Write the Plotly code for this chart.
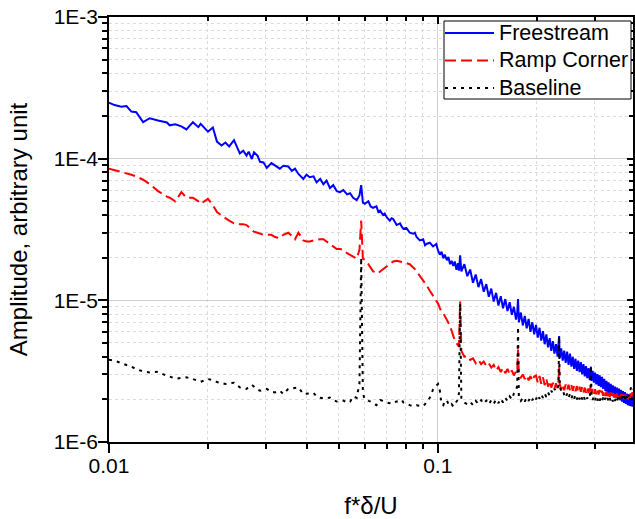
import plotly.graph_objects as go

# ---------------- data ----------------
freq = [
    0.0100, 0.0104, 0.0109, 0.0113, 0.0117, 0.0121, 0.0127, 0.0133, 0.0141, 0.0150,
    0.0153, 0.0159, 0.0166, 0.0172, 0.0180, 0.0187, 0.0190, 0.0200, 0.0207, 0.0213,
    0.0220, 0.0226, 0.0232, 0.0240, 0.0250, 0.0256, 0.0262, 0.0266, 0.0272, 0.0276,
    0.0283, 0.0288, 0.0295, 0.0302, 0.0312, 0.0320, 0.0331, 0.0339, 0.0351, 0.0360,
    0.0368, 0.0377, 0.0390, 0.0399, 0.0408, 0.0419, 0.0428, 0.0439, 0.0449, 0.0459,
    0.0470, 0.0481, 0.0493, 0.0504, 0.0516, 0.0530, 0.0541, 0.0553, 0.0567, 0.0578,
    0.0585, 0.0592, 0.0600, 0.0615, 0.0625, 0.0636, 0.0651, 0.0660, 0.0668, 0.0682,
    0.0690, 0.0700, 0.0715, 0.0724, 0.0732, 0.0750, 0.0768, 0.0778, 0.0786, 0.0803,
    0.0822, 0.0842, 0.0852, 0.0862, 0.0882, 0.0903, 0.0915, 0.0924, 0.0946, 0.0968,
    0.0990, 0.1002, 0.1015, 0.1027, 0.1040, 0.1050, 0.1066, 0.1078, 0.1090, 0.1102,
    0.1115, 0.1127, 0.1140, 0.1152, 0.1160, 0.1170, 0.1180, 0.1205, 0.1230, 0.1255,
    0.1280, 0.1305, 0.1330, 0.1355, 0.1380, 0.1405, 0.1430, 0.1455, 0.1480, 0.1505,
    0.1530, 0.1555, 0.1580, 0.1605, 0.1630, 0.1655, 0.1680, 0.1705, 0.1730, 0.1745,
    0.1755, 0.1765, 0.1790, 0.1815, 0.1840, 0.1865, 0.1890, 0.1915, 0.1940, 0.1965,
    0.1990, 0.2015, 0.2040, 0.2065, 0.2090, 0.2115, 0.2140, 0.2165, 0.2190, 0.2215,
    0.2240, 0.2265, 0.2290, 0.2315, 0.2330, 0.2340, 0.2350, 0.2375, 0.2400, 0.2425,
    0.2450, 0.2475, 0.2500, 0.2525, 0.2550, 0.2575, 0.2600, 0.2625, 0.2650, 0.2675,
    0.2700, 0.2725, 0.2750, 0.2775, 0.2800, 0.2825, 0.2850, 0.2875, 0.2900, 0.2915,
    0.2925, 0.2935, 0.2960, 0.2985, 0.3010, 0.3035, 0.3060, 0.3085, 0.3110, 0.3135,
    0.3160, 0.3185, 0.3210, 0.3235, 0.3260, 0.3285, 0.3310, 0.3335, 0.3360, 0.3385,
    0.3410, 0.3435, 0.3460, 0.3485, 0.3510, 0.3535, 0.3560, 0.3585, 0.3610, 0.3635,
    0.3660, 0.3685, 0.3710, 0.3735, 0.3760, 0.3785, 0.3810, 0.3835, 0.3860, 0.3885,
    0.3910, 0.3935,
]

freestream = [
    2.48e-4, 2.39e-4, 2.33e-4, 2.35e-4, 2.15e-4, 2.13e-4, 1.81e-4, 1.93e-4, 1.86e-4, 1.80e-4,
    1.72e-4, 1.75e-4, 1.69e-4, 1.61e-4, 1.81e-4, 1.67e-4, 1.76e-4, 1.55e-4, 1.66e-4, 1.32e-4,
    1.24e-4, 1.30e-4, 1.22e-4, 1.35e-4, 1.09e-4, 1.14e-4, 1.05e-4, 1.12e-4, 9.95e-5, 1.11e-4,
    1.05e-4, 9.5e-5, 9.4e-5, 8.6e-5, 9.3e-5, 8.9e-5, 8.5e-5, 8.9e-5, 8.8e-5, 8.2e-5,
    8.5e-5, 7.8e-5, 7.2e-5, 7.7e-5, 7.4e-5, 7.5e-5, 6.8e-5, 7.2e-5, 6.6e-5, 7.0e-5,
    6.2e-5, 6.5e-5, 5.9e-5, 5.8e-5, 6.0e-5, 5.6e-5, 5.7e-5, 5.3e-5, 5.1e-5, 5.5e-5,
    6.5e-5, 4.9e-5, 4.8e-5, 5.0e-5, 4.6e-5, 4.5e-5, 4.6e-5, 4.2e-5, 4.3e-5, 4.0e-5,
    4.1e-5, 3.85e-5, 3.65e-5, 3.8e-5, 3.75e-5, 3.4e-5, 3.5e-5, 3.3e-5, 3.2e-5, 3.25e-5,
    3.0e-5, 2.95e-5, 3.0e-5, 2.8e-5, 2.65e-5, 2.7e-5, 2.45e-5, 2.5e-5, 2.55e-5, 2.4e-5,
    2.5e-5, 2.25e-5, 2.1e-5, 2.2e-5, 1.98e-5, 2.1e-5, 1.92e-5, 2.02e-5, 1.8e-5, 1.9e-5,
    1.75e-5, 1.88e-5, 1.64e-5, 1.83e-5, 1.62e-5, 2.08e-5, 1.60e-5, 1.80e-5, 1.48e-5, 1.65e-5,
    1.33e-5, 1.52e-5, 1.24e-5, 1.41e-5, 1.15e-5, 1.30e-5, 1.06e-5, 1.21e-5, 9.8e-6, 1.13e-5,
    9.2e-6, 1.07e-5, 8.8e-6, 1.02e-5, 8.4e-6, 9.7e-6, 7.9e-6, 9.0e-6, 7.3e-6, 8.2e-6,
    1.02e-5, 7.0e-6, 8.2e-6, 6.65e-6, 7.75e-6, 6.35e-6, 7.4e-6, 6.0e-6, 7.0e-6, 5.75e-6,
    6.7e-6, 5.45e-6, 6.4e-6, 5.2e-6, 6.05e-6, 4.9e-6, 5.75e-6, 4.65e-6, 5.4e-6, 4.4e-6,
    5.15e-6, 4.2e-6, 4.9e-6, 4.0e-6, 4.7e-6, 5.6e-6, 3.92e-6, 4.58e-6, 3.75e-6, 4.42e-6,
    3.62e-6, 4.34e-6, 3.5e-6, 4.2e-6, 3.4e-6, 3.99e-6, 3.28e-6, 3.87e-6, 3.18e-6, 3.76e-6,
    3.11e-6, 3.66e-6, 3.0e-6, 3.54e-6, 2.91e-6, 3.43e-6, 2.82e-6, 3.32e-6, 2.73e-6, 3.22e-6,
    3.4e-6, 2.70e-6, 3.18e-6, 2.62e-6, 3.09e-6, 2.55e-6, 3.02e-6, 2.49e-6, 2.96e-6, 2.44e-6,
    2.88e-6, 2.37e-6, 2.79e-6, 2.29e-6, 2.70e-6, 2.23e-6, 2.64e-6, 2.17e-6, 2.57e-6, 2.12e-6,
    2.51e-6, 2.07e-6, 2.46e-6, 2.04e-6, 2.42e-6, 2.0e-6, 2.38e-6, 1.97e-6, 2.33e-6, 1.93e-6,
    2.29e-6, 1.89e-6, 2.25e-6, 1.86e-6, 2.2e-6, 1.82e-6, 2.17e-6, 1.8e-6, 2.15e-6, 1.78e-6,
    2.12e-6, 1.77e-6,
]

ramp_corner = [
    8.5e-5, 8.3e-5, 8.1e-5, 7.9e-5, 7.7e-5, 7.5e-5, 7.1e-5, 6.6e-5, 5.9e-5, 5.4e-5,
    5.3e-5, 5.0e-5, 5.8e-5, 5.3e-5, 5.3e-5, 5.0e-5, 4.8e-5, 5.2e-5, 4.7e-5, 4.2e-5,
    3.95e-5, 3.8e-5, 3.65e-5, 3.5e-5, 3.45e-5, 3.45e-5, 3.4e-5, 3.3e-5, 3.15e-5, 3.05e-5,
    3.0e-5, 2.95e-5, 2.9e-5, 2.9e-5, 2.9e-5, 2.8e-5, 2.75e-5, 2.9e-5, 3.0e-5, 2.85e-5,
    2.7e-5, 3.0e-5, 2.65e-5, 2.6e-5, 2.6e-5, 2.65e-5, 2.68e-5, 2.7e-5, 2.7e-5, 2.6e-5,
    2.5e-5, 2.4e-5, 2.3e-5, 2.3e-5, 2.27e-5, 2.15e-5, 2.1e-5, 2.03e-5, 1.97e-5, 2.27e-5,
    3.65e-5, 1.97e-5, 1.93e-5, 1.8e-5, 1.7e-5, 1.6e-5, 1.57e-5, 1.55e-5, 1.6e-5, 1.66e-5,
    1.7e-5, 1.75e-5, 1.82e-5, 1.86e-5, 1.88e-5, 1.9e-5, 1.88e-5, 1.87e-5, 1.86e-5, 1.83e-5,
    1.8e-5, 1.72e-5, 1.66e-5, 1.6e-5, 1.49e-5, 1.4e-5, 1.34e-5, 1.28e-5, 1.17e-5, 1.08e-5,
    1.0e-5, 9.5e-6, 8.8e-6, 8.3e-6, 8.1e-6, 7.8e-6, 7.3e-6, 7.0e-6, 6.6e-6, 6.1e-6,
    5.6e-6, 5.2e-6, 5.0e-6, 4.85e-6, 4.7e-6, 9.8e-6, 4.4e-6, 4.0e-6, 4.05e-6, 3.8e-6,
    3.9e-6, 3.6e-6, 3.8e-6, 3.55e-6, 3.7e-6, 3.45e-6, 3.6e-6, 3.35e-6, 3.5e-6, 3.2e-6,
    3.38e-6, 3.12e-6, 3.33e-6, 3.06e-6, 3.28e-6, 3.0e-6, 3.2e-6, 2.95e-6, 3.15e-6, 3.1e-6,
    4.5e-6, 2.95e-6, 2.85e-6, 3.0e-6, 2.78e-6, 2.95e-6, 2.72e-6, 2.92e-6, 2.7e-6, 2.9e-6,
    2.95e-6, 2.62e-6, 2.92e-6, 2.58e-6, 2.86e-6, 2.52e-6, 2.8e-6, 2.46e-6, 2.7e-6, 2.42e-6,
    2.62e-6, 2.38e-6, 2.6e-6, 2.4e-6, 2.7e-6, 3.45e-6, 2.55e-6, 2.35e-6, 2.55e-6, 2.32e-6,
    2.55e-6, 2.33e-6, 2.54e-6, 2.32e-6, 2.52e-6, 2.3e-6, 2.5e-6, 2.28e-6, 2.48e-6, 2.27e-6,
    2.45e-6, 2.26e-6, 2.44e-6, 2.24e-6, 2.42e-6, 2.23e-6, 2.41e-6, 2.22e-6, 2.4e-6, 2.25e-6,
    2.38e-6, 2.2e-6, 2.37e-6, 2.18e-6, 2.36e-6, 2.17e-6, 2.34e-6, 2.16e-6, 2.33e-6, 2.15e-6,
    2.3e-6, 2.12e-6, 2.29e-6, 2.11e-6, 2.27e-6, 2.1e-6, 2.25e-6, 2.08e-6, 2.24e-6, 2.07e-6,
    2.22e-6, 2.06e-6, 2.21e-6, 2.05e-6, 2.2e-6, 2.04e-6, 2.19e-6, 2.03e-6, 2.18e-6, 2.02e-6,
    2.17e-6, 2.01e-6, 2.16e-6, 2.0e-6, 2.15e-6, 2.0e-6, 2.18e-6, 2.02e-6, 2.2e-6, 2.05e-6,
    2.25e-6, 2.1e-6,
]

baseline = [
    3.8e-6, 3.75e-6, 3.6e-6, 3.5e-6, 3.4e-6, 3.27e-6, 3.15e-6, 3.1e-6, 3.13e-6, 2.93e-6,
    2.9e-6, 2.8e-6, 2.82e-6, 2.86e-6, 2.78e-6, 2.7e-6, 2.66e-6, 2.78e-6, 2.74e-6, 2.65e-6,
    2.6e-6, 2.57e-6, 2.6e-6, 2.62e-6, 2.43e-6, 2.38e-6, 2.37e-6, 2.45e-6, 2.53e-6, 2.45e-6,
    2.35e-6, 2.3e-6, 2.33e-6, 2.37e-6, 2.26e-6, 2.24e-6, 2.3e-6, 2.18e-6, 2.37e-6, 2.4e-6,
    2.43e-6, 2.43e-6, 2.18e-6, 2.18e-6, 2.2e-6, 2.22e-6, 2.1e-6, 2.05e-6, 2.03e-6, 2.04e-6,
    2.06e-6, 1.98e-6, 1.93e-6, 1.95e-6, 1.96e-6, 1.9e-6, 1.92e-6, 2.1e-6, 2.05e-6, 2.6e-6,
    2.0e-5, 2.2e-6, 2.0e-6, 1.95e-6, 1.93e-6, 1.88e-6, 1.82e-6, 1.9e-6, 1.98e-6, 1.95e-6,
    1.92e-6, 1.9e-6, 1.88e-6, 1.86e-6, 1.9e-6, 1.93e-6, 1.96e-6, 1.98e-6, 1.9e-6, 1.85e-6,
    1.82e-6, 1.79e-6, 1.8e-6, 1.82e-6, 1.8e-6, 1.79e-6, 1.85e-6, 1.93e-6, 2.05e-6, 2.35e-6,
    2.5e-6, 2.57e-6, 2.3e-6, 1.85e-6, 1.82e-6, 1.95e-6, 1.97e-6, 1.85e-6, 1.8e-6, 1.85e-6,
    1.78e-6, 1.85e-6, 1.9e-6, 2.0e-6, 2.2e-6, 9.5e-6, 2.0e-6, 1.9e-6, 1.85e-6, 1.92e-6,
    1.82e-6, 1.95e-6, 1.85e-6, 1.97e-6, 1.86e-6, 1.96e-6, 1.84e-6, 1.97e-6, 1.86e-6, 2.0e-6,
    1.88e-6, 2.02e-6, 1.9e-6, 2.05e-6, 1.95e-6, 2.1e-6, 2.0e-6, 2.2e-6, 2.3e-6, 2.5e-6,
    6.5e-6, 2.05e-6, 1.95e-6, 2.05e-6, 1.93e-6, 2.06e-6, 1.95e-6, 2.08e-6, 1.97e-6, 2.1e-6,
    2.0e-6, 2.15e-6, 2.02e-6, 2.17e-6, 2.05e-6, 2.2e-6, 2.08e-6, 2.24e-6, 2.12e-6, 2.3e-6,
    2.2e-6, 2.38e-6, 2.28e-6, 2.45e-6, 2.5e-6, 5.6e-6, 2.45e-6, 2.3e-6, 2.35e-6, 2.15e-6,
    2.05e-6, 2.2e-6, 2.05e-6, 2.18e-6, 2.03e-6, 2.16e-6, 2.02e-6, 2.15e-6, 2.0e-6, 2.14e-6,
    2.0e-6, 2.14e-6, 2.0e-6, 2.13e-6, 2.0e-6, 2.12e-6, 2.02e-6, 2.15e-6, 2.1e-6, 2.3e-6,
    3.45e-6, 2.15e-6, 1.98e-6, 2.1e-6, 1.97e-6, 2.1e-6, 1.96e-6, 2.08e-6, 1.96e-6, 2.06e-6,
    1.95e-6, 2.06e-6, 1.94e-6, 2.05e-6, 1.95e-6, 2.04e-6, 1.93e-6, 2.05e-6, 1.95e-6, 2.04e-6,
    1.93e-6, 2.05e-6, 1.95e-6, 2.04e-6, 1.94e-6, 2.06e-6, 1.96e-6, 2.08e-6, 1.98e-6, 2.1e-6,
    2.0e-6, 2.12e-6, 2.02e-6, 2.15e-6, 2.05e-6, 2.2e-6, 2.1e-6, 2.3e-6, 2.35e-6, 2.5e-6,
    2.45e-6, 2.35e-6,
]

series_names = ["Freestream", "Ramp Corner", "Baseline"]

x_tick_vals = [0.01, 0.1]
x_tick_text = ["0.01", "0.1"]
x_minor_vals = [0.02, 0.03, 0.04, 0.05, 0.06, 0.07, 0.08, 0.09, 0.2, 0.3]
y_tick_vals = [1e-6, 1e-5, 1e-4, 1e-3]
y_tick_text = ["1E-6", "1E-5", "1E-4", "1E-3"]
y_minor_vals = [k * d for d in (1e-6, 1e-5, 1e-4) for k in range(2, 10)]

assert len(freq) == len(freestream) == len(ramp_corner) == len(baseline), (
    len(freq), len(freestream), len(ramp_corner), len(baseline))

# ---------------- figure ----------------
FONT = "Liberation Sans, Arial, sans-serif"
X_RANGE = [-2, -0.406]
Y_RANGE = [-6, -3]
COLORS = ["#0000FF", "#FF0000", "#000000"]
DASHES = ["solid", "11px,5px", "3px,5px"]

fig = go.Figure()
for name, vals, col, dash in zip(series_names, [freestream, ramp_corner, baseline],
                                 COLORS, DASHES):
    fig.add_trace(go.Scatter(x=freq, y=vals, name=name, mode="lines",
                             line=dict(color=col, width=2, dash=dash)))
# empty trace so the mirrored (top / right) axes with inward ticks are drawn
fig.add_trace(go.Scatter(x=[], y=[], xaxis="x2", yaxis="y2", showlegend=False,
                         hoverinfo="skip"))

# ---- legend box (Origin style: long line samples, tight rows) ----
PW, PH, ML, MT = 524, 425, 109, 17          # plot-area size / offsets in px
def px(xp):
    return (xp - ML) / PW
def py(yp):
    return 1 - (yp - MT) / PH

shapes = [dict(type="rect", xref="paper", yref="paper",
               x0=px(444), x1=px(631), y0=py(99), y1=py(21),
               line=dict(color="black", width=1), fillcolor="white", layer="above")]
annotations = []
for i, (name, col, dash) in enumerate(zip(series_names, COLORS, DASHES)):
    row_y = py(33 + 27.5 * i)
    shapes.append(dict(type="line", xref="paper", yref="paper",
                       x0=px(445), x1=px(494), y0=row_y, y1=row_y, layer="above",
                       line=dict(color=col, width=2, dash=dash)))
    annotations.append(dict(xref="paper", yref="paper", x=px(497), y=row_y,
                            xanchor="left", yanchor="middle", showarrow=False,
                            text=name, font=dict(family=FONT, size=21.5, color="black")))

fig.update_layout(
    width=635, height=519,
    margin=dict(l=ML, r=635 - ML - PW, t=MT, b=519 - MT - PH, autoexpand=False),
    paper_bgcolor="white", plot_bgcolor="white",
    font=dict(family=FONT, color="black", size=21),
    showlegend=False,
    shapes=shapes, annotations=annotations,
    xaxis=dict(
        type="log", range=X_RANGE, automargin=False,
        tickmode="array", tickvals=x_tick_vals, ticktext=x_tick_text,
        ticks="outside", ticklen=9, tickwidth=1.5, tickcolor="black",
        tickfont=dict(size=21), ticklabelstandoff=-5,
        showline=True, linecolor="black", linewidth=1.5, mirror=True,
        showgrid=True, gridcolor="#cfcfcf", gridwidth=1, zeroline=False,
        minor=dict(tickmode="array", tickvals=x_minor_vals, ticks="outside",
                   ticklen=5, tickwidth=1.5, tickcolor="black",
                   showgrid=True, gridcolor="#dcdcdc", griddash="dot", gridwidth=1),
        title=dict(text="f*δ/U", font=dict(size=24), standoff=23),
    ),
    yaxis=dict(
        type="log", range=Y_RANGE, automargin=False,
        tickmode="array", tickvals=y_tick_vals, ticktext=y_tick_text,
        ticks="outside", ticklen=9, tickwidth=1.5, tickcolor="black",
        tickfont=dict(size=21), ticklabelstandoff=-4,
        showline=True, linecolor="black", linewidth=1.5, mirror=True,
        showgrid=True, gridcolor="#cfcfcf", gridwidth=1, zeroline=False,
        minor=dict(tickmode="array", tickvals=y_minor_vals, ticks="outside",
                   ticklen=5, tickwidth=1.5, tickcolor="black",
                   showgrid=True, gridcolor="#dcdcdc", griddash="dot", gridwidth=1),
        title=dict(text="Amplitude, arbitrary unit", font=dict(size=24), standoff=19),
    ),
    xaxis2=dict(
        type="log", range=X_RANGE, overlaying="x", side="top", anchor="y",
        automargin=False,
        tickmode="array", tickvals=x_tick_vals, ticks="inside", ticklen=7,
        tickwidth=1.5, tickcolor="black", showticklabels=False,
        showgrid=False, showline=False, zeroline=False,
        minor=dict(tickmode="array", tickvals=x_minor_vals, ticks="inside",
                   ticklen=4, tickwidth=1.5, tickcolor="black", showgrid=False),
    ),
    yaxis2=dict(
        type="log", range=Y_RANGE, overlaying="y", side="right", anchor="x",
        automargin=False,
        tickmode="array", tickvals=y_tick_vals, ticks="inside", ticklen=6,
        tickwidth=1.5, tickcolor="black", showticklabels=False,
        showgrid=False, showline=False, zeroline=False,
        minor=dict(tickmode="array", tickvals=y_minor_vals, ticks="inside",
                   ticklen=4, tickwidth=1.5, tickcolor="black", showgrid=False),
    ),
)

# remove the browser's default 8px page margin so the figure fills the window
fig.write_html("out.html",
               config={"displayModeBar": False},
               post_script="document.body.style.margin='0';"
                           "document.body.style.overflow='hidden';")
